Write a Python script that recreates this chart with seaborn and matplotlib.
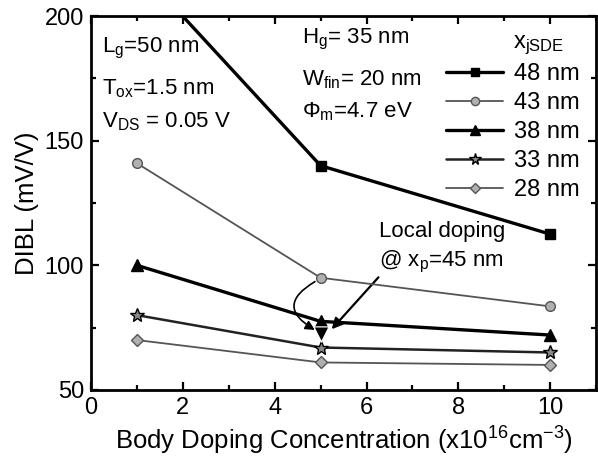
import matplotlib
matplotlib.use("Agg")
import matplotlib.pyplot as plt
import seaborn as sns
import pandas as pd
from matplotlib.patches import FancyArrowPatch
from matplotlib.ticker import MultipleLocator

doping = [1, 5, 10]
series_labels = ["48 nm", "43 nm", "38 nm", "33 nm", "28 nm"]
dibl_48 = [220, 140, 112.5]
dibl_43 = [141, 95, 83.5]
dibl_38 = [100, 77.5, 72]
dibl_33 = [80, 67, 65]
dibl_28 = [70, 61, 60]
local_x = [5]
local_y = [72.5]

sns.set_theme(style="ticks")
plt.rcParams['font.family'] = ['Liberation Sans', 'DejaVu Sans']
plt.rcParams['mathtext.fontset'] = 'custom'
plt.rcParams['mathtext.rm'] = 'Liberation Sans'
plt.rcParams['mathtext.it'] = 'Liberation Sans'
plt.rcParams['mathtext.default'] = 'regular'
plt.rcParams['text.color'] = 'black'
plt.rcParams['axes.labelcolor'] = 'black'

fig = plt.figure(figsize=(5.98, 4.63), dpi=100)
ax = fig.add_axes([0.152, 0.158, 0.845, 0.807])

styles = [
    (dibl_48, dict(color='black', lw=2.4, marker='s', ms=7, mfc='black', mec='black')),
    (dibl_43, dict(color='#555555', lw=1.3, marker='o', ms=7, mfc='#b0b0b0', mec='#555555')),
    (dibl_38, dict(color='black', lw=2.4, marker='^', ms=9, mfc='black', mec='black')),
    (dibl_33, dict(color='#222222', lw=1.8, marker='*', ms=10, mfc='#888888', mec='black')),
    (dibl_28, dict(color='#555555', lw=1.3, marker='D', ms=6.5, mfc='#b0b0b0', mec='#555555')),
]
for lab, (vals, st) in zip(series_labels, styles):
    df = pd.DataFrame({"x": doping, "y": vals})
    sns.lineplot(data=df, x="x", y="y", ax=ax, label=lab, color=st['color'], lw=st['lw'],
                 marker=st['marker'], markersize=st['ms'], markerfacecolor=st['mfc'],
                 markeredgecolor=st['mec'], markeredgewidth=1.0)

ldf = pd.DataFrame({"x": local_x, "y": local_y})
sns.scatterplot(data=ldf, x="x", y="y", ax=ax, marker='v', s=120, color='black', zorder=5)

ax.set_xlim(0, 11)
ax.set_ylim(50, 200)
ax.xaxis.set_major_locator(MultipleLocator(2))
ax.xaxis.set_minor_locator(MultipleLocator(1))
ax.yaxis.set_major_locator(MultipleLocator(50))
ax.yaxis.set_minor_locator(MultipleLocator(25))
ax.set_xticks([0, 2, 4, 6, 8, 10])
ax.tick_params(which='both', direction='in', top=True, right=True, width=1.6, labelsize=17,
               colors='black', labelcolor='black')
ax.tick_params(which='major', length=6, pad=5)
ax.tick_params(which='minor', length=3.5)
for sp in ax.spines.values():
    sp.set_linewidth(2.0)
    sp.set_color('black')
    sp.set_visible(True)

ax.set_xlabel("Body Doping Concentration (x10$^{16}$cm$^{-3}$)", fontsize=18.5, labelpad=4)
ax.set_ylabel("DIBL (mV/V)", fontsize=18.5, labelpad=4)

fs = 16
ax.text(0.25, 187, "L$_g$=50 nm", fontsize=fs, va='center')
ax.text(0.25, 171, "T$_{ox}$=1.5 nm", fontsize=fs, va='center')
ax.text(0.25, 157.5, "V$_{DS}$ = 0.05 V", fontsize=fs, va='center')
ax.text(4.6, 190.5, "H$_g$= 35 nm", fontsize=fs, va='center')
ax.text(4.6, 174.5, "W$_{fin}$= 20 nm", fontsize=fs, va='center')
ax.text(4.6, 161.5, "Φ$_m$=4.7 eV", fontsize=fs, va='center')
ax.text(6.28, 113.5, "Local doping", fontsize=fs, va='center')
ax.text(6.28, 101.5, "@ x$_p$=45 nm", fontsize=fs, va='center')
ax.text(9.18, 188.5, "x$_{jSDE}$", fontsize=17, va='center')

leg = ax.legend(loc='upper right', bbox_to_anchor=(0.985, 0.90), frameon=False, fontsize=17,
                handlelength=2.4, labelspacing=0.3, handletextpad=0.45, borderaxespad=0.0,
                markerscale=0.85)

a1 = FancyArrowPatch((4.93, 94), (4.93, 73.5), connectionstyle="arc3,rad=0.9",
                     arrowstyle='-|>', mutation_scale=14, color='black', lw=1.2)
ax.add_patch(a1)
a2 = FancyArrowPatch((6.3, 96), (5.2, 73.5), connectionstyle="arc3,rad=0.0",
                     arrowstyle='-|>', mutation_scale=16, color='black', lw=1.6)
ax.add_patch(a2)

fig.savefig("out.png", dpi=100)
